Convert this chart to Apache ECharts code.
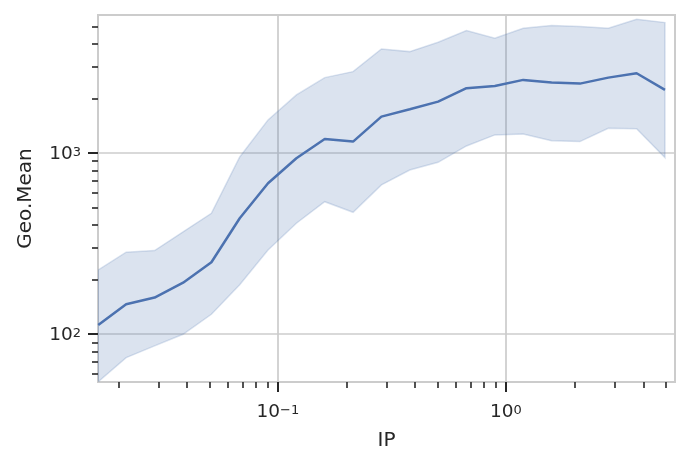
<!DOCTYPE html>
<html>
<head>
<meta charset="utf-8">
<script src="https://cdn.jsdelivr.net/npm/echarts@6/dist/echarts.min.js"></script>
<style>
    html, body { margin: 0; padding: 0; background: #fff; }
    #chart { width: 690px; height: 468px; }
</style>
</head>
<body>
<div id="chart"></div>
<script>
    // 数据
    var ip = [0.0163, 0.0216, 0.0288, 0.0384, 0.0511, 0.068, 0.0905, 0.1205, 0.1604, 0.2136, 0.2843,
              0.3786, 0.504, 0.6711, 0.8935, 1.19, 1.585, 2.11, 2.81, 3.74, 4.98];
    var geoMean = [112, 146, 159, 192, 249, 436, 680, 935, 1195, 1155, 1587,
                   1743, 1920, 2278, 2345, 2532, 2446, 2415, 2606, 2756, 2229];
    var upper = [226, 283, 289, 367, 464, 950, 1522, 2091, 2606, 2813, 3754,
                 3628, 4090, 4740, 4302, 4887, 5050, 4987, 4887, 5479, 5248];
    var lower = [54.5, 74, 86, 99.6, 128.5, 187, 291, 409, 538, 470, 666,
                 805, 888, 1093, 1258, 1274, 1169, 1155, 1369, 1362, 942];

    // 刻度
    var xMajor = [0.1, 1];
    var xMajorLabels = {'-1': ['10', '−1'], '0': ['10', '0']};
    var xMinor = [0.02, 0.03, 0.04, 0.05, 0.06, 0.07, 0.08, 0.09,
                  0.2, 0.3, 0.4, 0.5, 0.6, 0.7, 0.8, 0.9, 2, 3, 4, 5];
    var yMajor = [100, 1000];
    var yMajorLabels = {'2': ['10', '2'], '3': ['10', '3']};
    var yMinor = [60, 70, 80, 90, 200, 300, 400, 500, 600, 700, 800, 900, 2000, 3000, 4000, 5000];

    var xMin = 0.01626, xMax = 5.51;
    var yMin = 54.3, yMax = 5780;

    var blue = '#4c72b0';
    var bandColor = 'rgba(76,114,176,0.2)';
    var gridColor = '#cccccc';
    var textColor = '#262626';
    var fontFamily = 'DejaVu Sans';

    var myChart = echarts.init(document.getElementById('chart'));

    var meanData = [];
    for (var i = 0; i < ip.length; i++) {
        meanData.push([ip[i], geoMean[i]]);
    }

    function logLabel(map) {
        return function (v) {
            var p = map[String(Math.round(Math.log10(v)))];
            return p ? '{b|' + p[0] + '}{s|' + p[1] + '}' : '';
        };
    }
    var labelRich = {
        b: { fontSize: 18.5, fontFamily: fontFamily, color: textColor, verticalAlign: 'bottom', lineHeight: 22 },
        s: { fontSize: 13, fontFamily: fontFamily, color: textColor, verticalAlign: 'bottom', lineHeight: 22, padding: [0, 0, 5, 0] }
    };

    // 置信区间（多边形）
    function renderBand(params, api) {
        var pts = [];
        for (var i = 0; i < ip.length; i++) {
            pts.push(api.coord([ip[i], upper[i]]));
        }
        for (var j = ip.length - 1; j >= 0; j--) {
            pts.push(api.coord([ip[j], lower[j]]));
        }
        return {
            type: 'polygon',
            shape: { points: pts },
            style: { fill: bandColor, stroke: bandColor, lineWidth: 1.5 }
        };
    }

    var option = {
        animation: false,
        grid: {
            left: 98,
            right: 15,
            top: 15,
            bottom: 86,
            show: true,
            borderColor: gridColor,
            borderWidth: 2
        },
        xAxis: [{
            type: 'log',
            logBase: 10,
            min: xMin,
            max: xMax,
            name: 'IP',
            nameLocation: 'middle',
            nameGap: 49,
            nameTextStyle: { color: textColor, fontSize: 20, fontFamily: fontFamily },
            axisLine: { show: false, onZero: false },
            axisTick: { show: true, length: 10, lineStyle: { color: textColor, width: 2 }, customValues: xMajor },
            axisLabel: { color: textColor, fontSize: 18.5, fontFamily: fontFamily, margin: 18,
                         customValues: xMajor, formatter: logLabel(xMajorLabels), rich: labelRich },
            splitLine: { show: true, lineStyle: { color: gridColor, width: 1.7 } }
        }, {
            type: 'log',
            logBase: 10,
            min: xMin,
            max: xMax,
            position: 'bottom',
            axisLine: { show: false, onZero: false },
            axisTick: { show: true, length: 6, lineStyle: { color: textColor, width: 1.6 }, customValues: xMinor },
            axisLabel: { show: false },
            splitLine: { show: false }
        }],
        yAxis: [{
            type: 'log',
            logBase: 10,
            min: yMin,
            max: yMax,
            name: 'Geo.Mean',
            nameLocation: 'middle',
            nameGap: 62,
            nameRotate: 90,
            nameTextStyle: { color: textColor, fontSize: 20, fontFamily: fontFamily },
            axisLine: { show: false, onZero: false },
            axisTick: { show: true, length: 10, lineStyle: { color: textColor, width: 2 }, customValues: yMajor },
            axisLabel: { color: textColor, fontSize: 18.5, fontFamily: fontFamily, margin: 17,
                         customValues: yMajor, formatter: logLabel(yMajorLabels), rich: labelRich },
            splitLine: { show: true, lineStyle: { color: gridColor, width: 1.7 } }
        }, {
            type: 'log',
            logBase: 10,
            min: yMin,
            max: yMax,
            position: 'left',
            axisLine: { show: false, onZero: false },
            axisTick: { show: true, length: 6, lineStyle: { color: textColor, width: 1.6 }, customValues: yMinor },
            axisLabel: { show: false },
            splitLine: { show: false }
        }],
        series: [{
            name: 'band',
            type: 'custom',
            renderItem: renderBand,
            data: [[ip[0], upper[0]]],
            silent: true,
            clip: true,
            z: 1
        }, {
            name: 'Geo.Mean',
            type: 'line',
            data: meanData,
            symbol: 'none',
            lineStyle: { color: blue, width: 2.5 },
            z: 3
        }]
    };
    myChart.setOption(option);
</script>
</body>
</html>
